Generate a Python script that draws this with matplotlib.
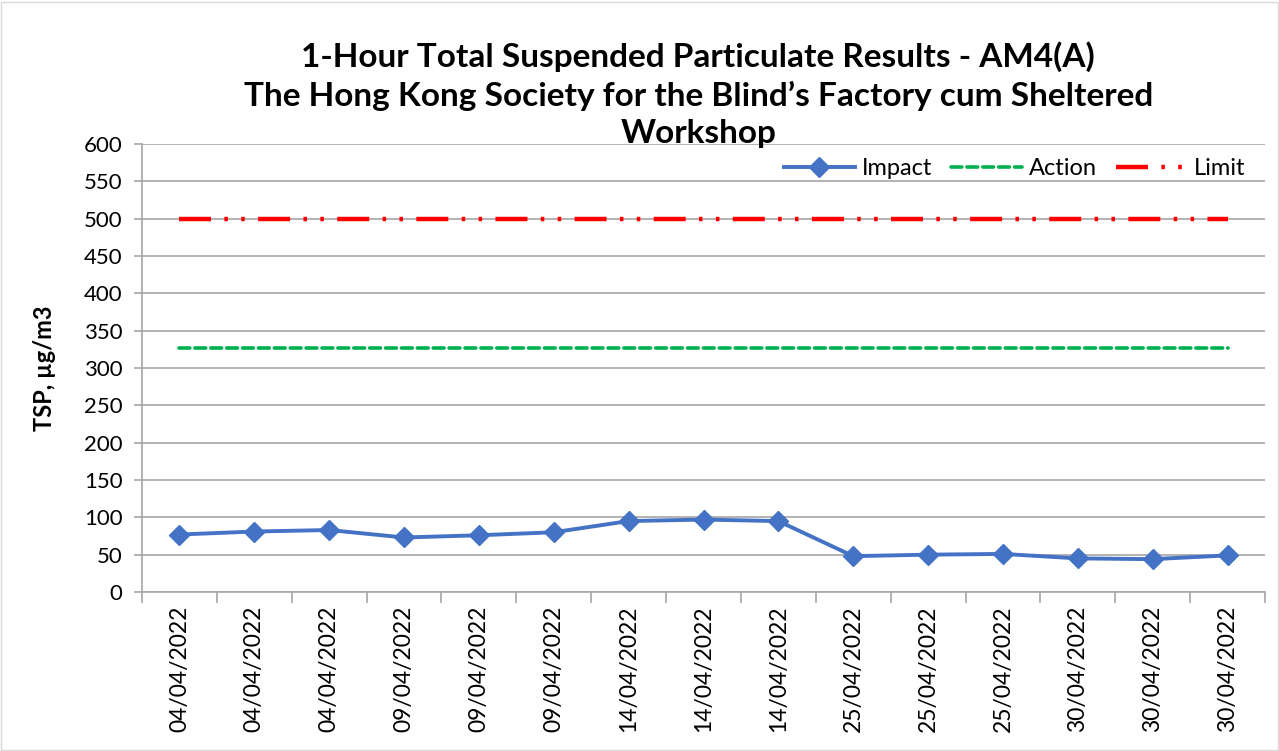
import numpy as np
import matplotlib.pyplot as plt
from matplotlib.patches import Rectangle

plt.rcParams['font.family'] = ['Lato', 'DejaVu Sans']

dates = ["04/04/2022", "04/04/2022", "04/04/2022",
         "09/04/2022", "09/04/2022", "09/04/2022",
         "14/04/2022", "14/04/2022", "14/04/2022",
         "25/04/2022", "25/04/2022", "25/04/2022",
         "30/04/2022", "30/04/2022", "30/04/2022"]
impact = [77, 81, 83, 73, 76, 80, 95, 97, 95, 48, 50, 51, 45, 44, 49]
action = [327] * len(dates)
limit = [500] * len(dates)

x = np.arange(len(dates))

fig = plt.figure(figsize=(12.79, 7.51), dpi=100)
ax = fig.add_axes([142 / 1279, 1 - 592 / 751, (1265 - 142) / 1279, (592 - 144) / 751])

grey = "#a6a6a6"
ax.plot(x, limit, color="#ff0000", lw=3.2, dashes=(7.2, 3.0, 0.8, 3.0, 0.8, 3.0),
        solid_capstyle="butt", dash_capstyle="butt", label="Limit", zorder=3)
ax.plot(x, action, color="#00b050", lw=2.6, dashes=(3.0, 1.4),
        dash_capstyle="round", label="Action", zorder=3)
ax.plot(x, impact, color="#4472c4", lw=2.8, marker="D", markersize=10,
        label="Impact", zorder=4)

ax.set_xlim(-0.5, len(dates) - 0.5)
ax.set_ylim(0, 600)
ax.set_yticks(np.arange(0, 601, 50))
ax.yaxis.grid(True, color=grey, lw=1.2)
ax.set_axisbelow(True)
ax.set_xticks(x)
ax.set_xticklabels(dates, rotation=90, fontsize=16.5)
ax.set_xticks(np.arange(-0.5, len(dates), 1), minor=True)
ax.tick_params(axis="x", which="major", length=0, pad=10)
ax.tick_params(axis="x", which="minor", length=8, color=grey, width=1.2)
ax.tick_params(axis="y", length=6, color=grey, width=1.2, labelsize=16, pad=8)
for s in ["top", "right"]:
    ax.spines[s].set_visible(False)
for s in ["left", "bottom"]:
    ax.spines[s].set_color(grey)
    ax.spines[s].set_linewidth(1.2)

ax.set_ylabel("TSP, µg/m3", fontsize=17, fontweight="bold", labelpad=20)

fig.text(0.546, 0.874, "1-Hour Total Suspended Particulate Results - AM4(A)\n"
         "The Hong Kong Society for the Blind\u2019s Factory cum Sheltered\nWorkshop",
         ha="center", va="center", fontsize=24, fontweight="bold", linespacing=1.33)

h, l = ax.get_legend_handles_labels()
ax.legend(h[::-1], l[::-1], loc="upper right", bbox_to_anchor=(0.995, 1.0), ncol=3,
          frameon=False, fontsize=17, handlelength=3.0, columnspacing=0.8,
          handletextpad=0.3, borderaxespad=0.2)

fig.patches.append(Rectangle((0.001, 0.001), 0.998, 0.997, transform=fig.transFigure,
                             fill=False, edgecolor="#d9d9d9", lw=1))

fig.savefig("out.png", dpi=100)
